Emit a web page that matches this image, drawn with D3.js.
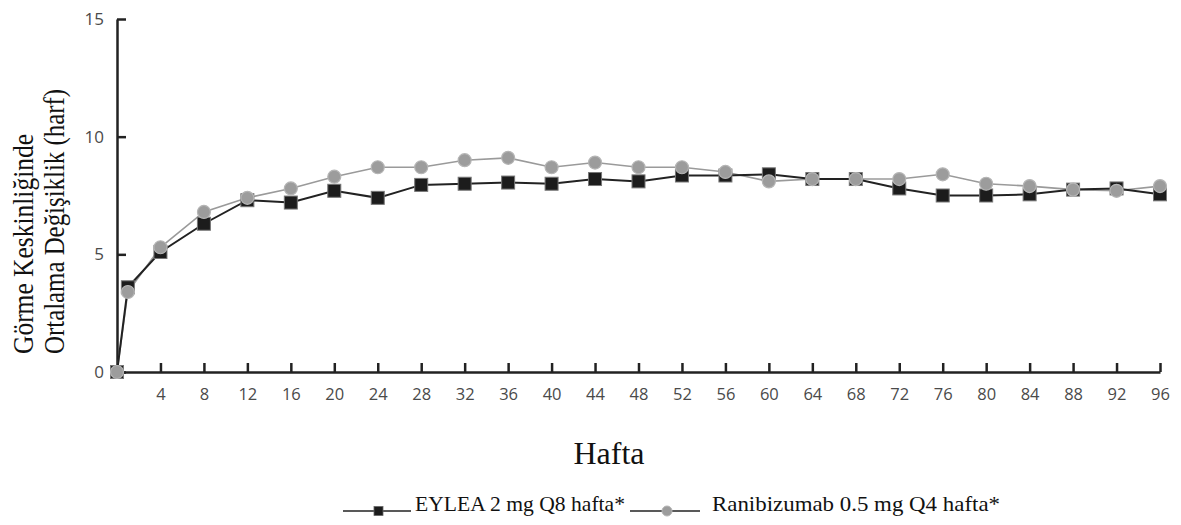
<!DOCTYPE html>
<html>
<head>
<meta charset="utf-8">
<script src="https://cdn.jsdelivr.net/npm/d3@7"></script>
<style>
  body { margin: 0; background: #fff; }
  svg { display: block; }
</style>
</head>
<body>
<svg id="chart"></svg>
<script>
const width = 1181;
const height = 525;

// weeks of the visits
const weeks = [0, 1, 4, 8, 12, 16, 20, 24, 28, 32, 36, 40, 44, 48, 52, 56, 60, 64, 68, 72, 76, 80, 84, 88, 92, 96];
const eylea = [0, 3.6, 5.1, 6.3, 7.3, 7.2, 7.7, 7.4, 7.95, 8.0, 8.05, 8.0, 8.2, 8.1, 8.35, 8.35, 8.4, 8.2, 8.2, 7.8, 7.5, 7.5, 7.55, 7.75, 7.8, 7.55];
const ranibizumab = [0, 3.4, 5.3, 6.8, 7.4, 7.8, 8.3, 8.7, 8.7, 9.0, 9.1, 8.7, 8.9, 8.7, 8.7, 8.5, 8.1, 8.2, 8.2, 8.2, 8.4, 8.0, 7.9, 7.75, 7.7, 7.9];
const xTicks = [4, 8, 12, 16, 20, 24, 28, 32, 36, 40, 44, 48, 52, 56, 60, 64, 68, 72, 76, 80, 84, 88, 92, 96];
const yTicks = [0, 5, 10, 15];

const svg = d3.select("#chart").attr("width", width).attr("height", height);

const x = d3.scaleLinear().domain([0, 96]).range([117, 1160]);
const y = d3.scaleLinear().domain([0, 15]).range([372, 19]);

const tickFont = "'Open Sans', 'DejaVu Sans', sans-serif";
const serif = "'Liberation Serif', 'DejaVu Serif', serif";

// x axis (ticks point up into the plot)
const xAxis = svg.append("g")
    .attr("transform", "translate(0," + y(0) + ")")
    .call(d3.axisBottom(x).tickValues(xTicks).tickSize(-9).tickPadding(16).tickSizeOuter(0));
xAxis.select(".domain").attr("stroke", "#222").attr("stroke-width", 2.5);
xAxis.selectAll(".tick line").attr("stroke", "#222").attr("stroke-width", 2.5);
xAxis.selectAll("text").attr("font-family", tickFont).attr("font-size", 16.5).attr("fill", "#4a4a4a");

// y axis (ticks point right)
const yAxis = svg.append("g")
    .attr("transform", "translate(" + x(0) + ",0)")
    .call(d3.axisLeft(y).tickValues(yTicks).tickSize(-9).tickPadding(13).tickSizeOuter(0));
yAxis.select(".domain").attr("stroke", "#222").attr("stroke-width", 2.5);
yAxis.selectAll(".tick line").attr("stroke", "#222").attr("stroke-width", 2.5);
yAxis.selectAll("text").attr("font-family", tickFont).attr("font-size", 17).attr("fill", "#4a4a4a");

// series
const series = [
    { values: ranibizumab, line: "#9a9a9a", width: 1.6 },
    { values: eylea, line: "#222", width: 2 }
];

const line = d3.line().x((d, i) => x(weeks[i])).y(d => y(d));

// draw lines first, then markers
series.forEach(s => {
    svg.append("path")
        .datum(s.values)
        .attr("fill", "none")
        .attr("stroke", s.line)
        .attr("stroke-width", s.width)
        .attr("d", line);
});

svg.append("g").selectAll("rect")
    .data(eylea)
    .enter()
    .append("rect")
    .attr("x", (d, i) => x(weeks[i]) - 6.5)
    .attr("y", d => y(d) - 6.5)
    .attr("width", 13)
    .attr("height", 13)
    .attr("fill", "#1c1c1c")
    .attr("stroke", "#777")
    .attr("stroke-width", 1);

svg.append("g").selectAll("circle")
    .data(ranibizumab)
    .enter()
    .append("circle")
    .attr("cx", (d, i) => x(weeks[i]))
    .attr("cy", d => y(d))
    .attr("r", 6.5)
    .attr("fill", "#9c9c9c")
    .attr("stroke", "#b5b5b5")
    .attr("stroke-width", 1.2);

// y axis title, two lines, both start at the same height
// (glyphs in the original are tall and narrow, hence textLength)
svg.append("text")
    .attr("transform", "translate(33,354) rotate(-90)")
    .attr("font-family", serif)
    .attr("font-size", 30)
    .attr("textLength", 220)
    .attr("lengthAdjust", "spacingAndGlyphs")
    .attr("fill", "#111")
    .text("Görme Keskinliğinde");
svg.append("text")
    .attr("transform", "translate(64,354) rotate(-90)")
    .attr("font-family", serif)
    .attr("font-size", 30)
    .attr("textLength", 265)
    .attr("lengthAdjust", "spacingAndGlyphs")
    .attr("fill", "#111")
    .text("Ortalama Değişiklik (harf)");

// x axis title
svg.append("text")
    .attr("x", 609)
    .attr("y", 464)
    .attr("text-anchor", "middle")
    .attr("font-family", serif)
    .attr("font-size", 32)
    .attr("fill", "#111")
    .text("Hafta");

// legend
const legY = 511;
const legend = svg.append("g");
legend.append("line")
    .attr("x1", 343).attr("x2", 411).attr("y1", legY).attr("y2", legY)
    .attr("stroke", "#222").attr("stroke-width", 1.5);
legend.append("rect")
    .attr("x", 374).attr("y", legY - 4.5).attr("width", 9).attr("height", 9)
    .attr("fill", "#1c1c1c").attr("stroke", "#666").attr("stroke-width", 0.8);
legend.append("text")
    .attr("x", 415).attr("y", legY)
    .attr("font-family", serif).attr("font-size", 21)
    .attr("textLength", 210).attr("lengthAdjust", "spacingAndGlyphs")
    .attr("fill", "#111")
    .text("EYLEA 2 mg Q8 hafta*");
legend.append("line")
    .attr("x1", 630).attr("x2", 700).attr("y1", legY).attr("y2", legY)
    .attr("stroke", "#222").attr("stroke-width", 1.5);
legend.append("circle")
    .attr("cx", 667).attr("cy", legY).attr("r", 5)
    .attr("fill", "#9c9c9c").attr("stroke", "#b5b5b5").attr("stroke-width", 1);
legend.append("text")
    .attr("x", 712).attr("y", legY)
    .attr("font-family", serif).attr("font-size", 21)
    .attr("textLength", 288).attr("lengthAdjust", "spacingAndGlyphs")
    .attr("fill", "#111")
    .text("Ranibizumab 0.5 mg Q4 hafta*");
</script>
</body>
</html>
